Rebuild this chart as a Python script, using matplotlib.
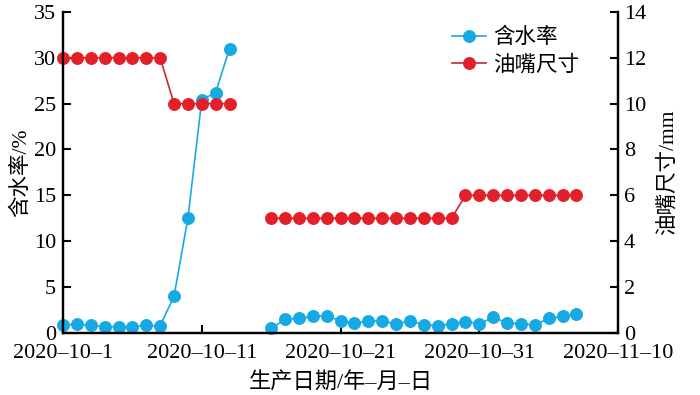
import matplotlib
matplotlib.use("Agg")
import matplotlib.pyplot as plt
import numpy as np
import pandas as pd

plt.rcParams['font.family'] = ['Liberation Serif', 'Noto Sans CJK SC']
plt.rcParams['axes.unicode_minus'] = False

# Data
dates_a = pd.date_range('2020-10-01', '2020-10-13')
dates_b = pd.date_range('2020-10-16', '2020-11-07')
water_a = [0.86, 0.96, 0.82, 0.68, 0.68, 0.68, 0.82, 0.79, 4.0, 12.5, 25.4, 26.2, 31.0]
water_b = [0.5, 1.5, 1.6, 1.8, 1.9, 1.3, 1.07, 1.3, 1.3, 1.0, 1.3, 0.9, 0.8, 1.0,
           1.25, 1.0, 1.7, 1.1, 1.0, 0.86, 1.6, 1.8, 2.1]
choke_a = [12, 12, 12, 12, 12, 12, 12, 12, 10, 10, 10, 10, 10]
choke_b = [5] * 14 + [6] * 9
tick_dates = ['2020-10-01', '2020-10-11', '2020-10-21', '2020-10-31', '2020-11-10']

blue = '#17A9E4'
red_m = '#E3202A'
red_l = '#C42A2E'

fig = plt.figure(figsize=(7.0, 3.95), dpi=100)
ax = fig.add_axes([0.09, 0.157, 0.793, 0.813])
ax2 = ax.twinx()

ms = 8.3
l1, = ax.plot(dates_a, water_a, '-o', color=blue, mfc=blue, mec=blue, ms=ms, lw=1.2, label='含水率', clip_on=False)
ax.plot(dates_b, water_b, '-o', color=blue, mfc=blue, mec=blue, ms=ms, lw=1.2, clip_on=False)
l2, = ax2.plot(dates_a, choke_a, '-o', color=red_l, mfc=red_m, mec=red_m, ms=ms, lw=1.2, label='油嘴尺寸', clip_on=False)
ax2.plot(dates_b, choke_b, '-o', color=red_l, mfc=red_m, mec=red_m, ms=ms, lw=1.2, clip_on=False)

ax.set_xlim(pd.Timestamp('2020-10-01'), pd.Timestamp('2020-11-10'))
ax.set_ylim(0, 35)
ax2.set_ylim(0, 14)
ax.set_yticks(np.arange(0, 36, 5))
ax2.set_yticks(np.arange(0, 15, 2))
ticks = [pd.Timestamp(t) for t in tick_dates]
ax.set_xticks(ticks)
ax.set_xticklabels([f"{t.year}–{t.month}–{t.day}" for t in ticks])

fs = 16
cfs = 15.5
for a in (ax, ax2):
    a.tick_params(direction='in', length=6, width=1.5, labelsize=fs, pad=4)
    a.spines['top'].set_visible(False)
    for s in ('left', 'right', 'bottom'):
        a.spines[s].set_linewidth(1.6)
ax.tick_params(axis='y', pad=5)
ax.tick_params(axis='x', pad=8)

ax.set_ylabel('含水率/%', fontsize=cfs, labelpad=2)
ax2.set_ylabel('油嘴尺寸/mm', fontsize=cfs, labelpad=8)
ax.set_xlabel('生产日期/年–月–日', fontsize=cfs + 0.5, labelpad=7)

ax2.legend([l1, l2], ['含水率', '油嘴尺寸'], loc='upper left', bbox_to_anchor=(0.665, 1.01),
           frameon=False, fontsize=cfs, handlelength=1.6, handletextpad=0.35, labelspacing=0.3)

fig.savefig('out.png', dpi=100)
